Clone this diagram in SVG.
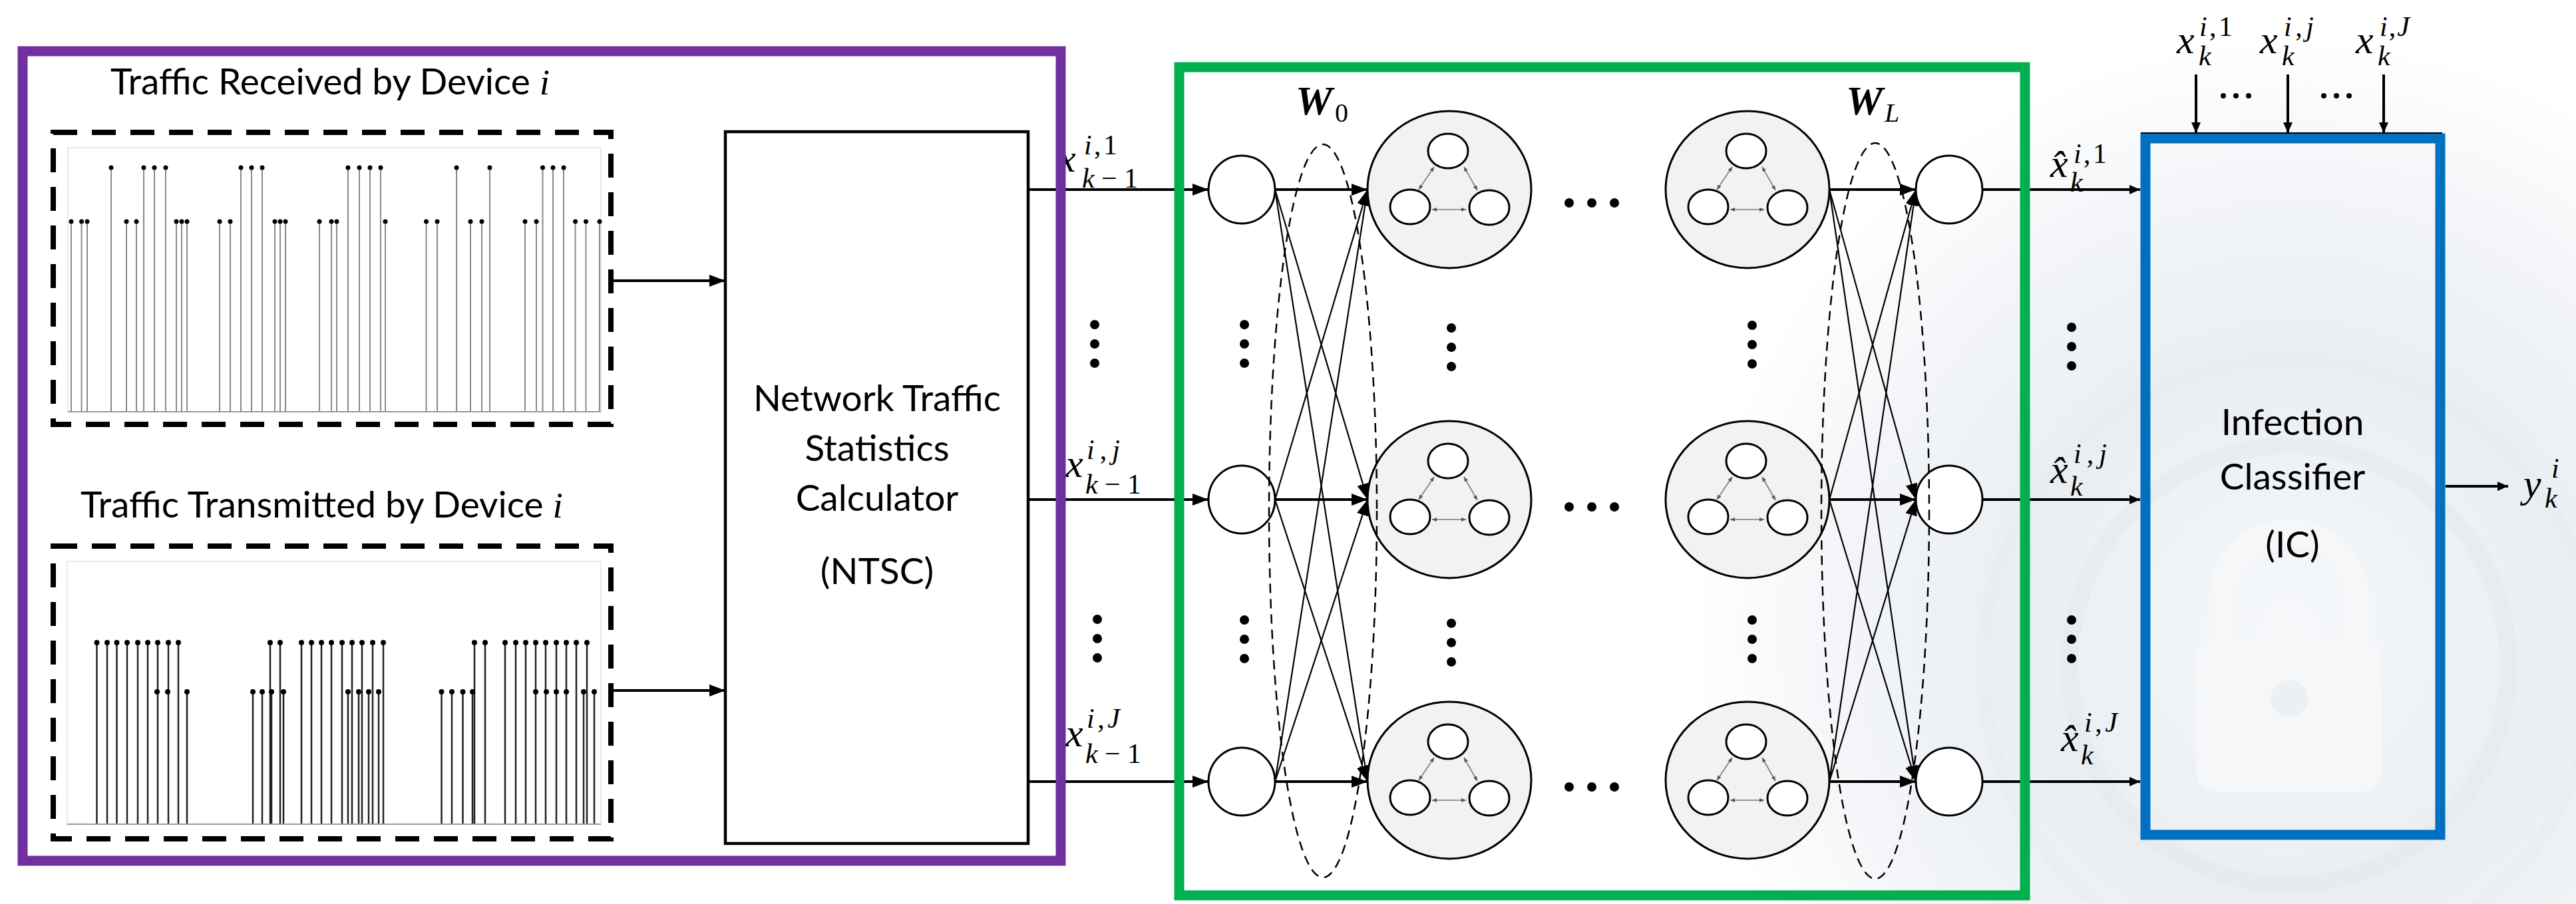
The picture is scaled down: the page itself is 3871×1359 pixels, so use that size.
<svg xmlns="http://www.w3.org/2000/svg" xmlns:xlink="http://www.w3.org/1999/xlink" width="3871" height="1359" viewBox="0 0 3871 1359">
<defs>
<style>
.t{font-family:Lato,"Liberation Sans",sans-serif;font-size:55px;fill:#000}
.m{font-family:"Liberation Serif","DejaVu Serif",serif;font-style:italic;fill:#000}
.n{font-family:"Liberation Serif","DejaVu Serif",serif;font-style:normal;fill:#000}
.wb{font-family:"Liberation Serif","DejaVu Serif",serif;font-style:italic;font-weight:bold;font-size:62px;fill:#000}
.sn{fill:#fff;stroke:#000;stroke-width:3}
.neu{fill:#fff;stroke:#000;stroke-width:3}
.thick{fill:none;stroke:#000;stroke-width:4}
.thin{fill:none;stroke:#000;stroke-width:2.2}
.dash{fill:none;stroke:#000;stroke-width:8;stroke-dasharray:36 22}
.dell{fill:none;stroke:#000;stroke-width:2.5;stroke-dasharray:14 9}
.gin{fill:none;stroke:#7a7a7a;stroke-width:1.6}
</style>
<marker id="ah" markerUnits="userSpaceOnUse" markerWidth="24" markerHeight="18" viewBox="0 0 24 18" refX="24" refY="9" orient="auto"><path d="M0 0L24 9L0 18z" fill="#000"/></marker>
<marker id="ahs" markerUnits="userSpaceOnUse" markerWidth="16" markerHeight="14" viewBox="0 0 16 14" refX="16" refY="7" orient="auto"><path d="M0 0L16 7L0 14z" fill="#000"/></marker>
<marker id="sa" markerUnits="userSpaceOnUse" markerWidth="7" markerHeight="6" viewBox="0 0 7 6" refX="7" refY="3" orient="auto-start-reverse"><path d="M0 0L7 3L0 6z" fill="#555"/></marker>
<radialGradient id="wm" gradientUnits="userSpaceOnUse" cx="3440" cy="950" r="900">
<stop offset="0" stop-color="#f6f8fa"/>
<stop offset="0.45" stop-color="#eaeef2"/>
<stop offset="0.75" stop-color="#f3f5f8"/>
<stop offset="1" stop-color="#ffffff"/>
</radialGradient>
<g id="cell">
<ellipse rx="123" ry="118" fill="#f2f2f2" stroke="#000" stroke-width="3"/>
<ellipse cx="-2" cy="-58" rx="30" ry="26" class="sn"/>
<ellipse cx="-59" cy="26" rx="30" ry="26" class="sn"/>
<ellipse cx="60" cy="27" rx="30" ry="26" class="sn"/>
<line x1="-23" y1="-34" x2="-46" y2="0" class="gin" marker-start="url(#sa)" marker-end="url(#sa)"/>
<line x1="22" y1="-34" x2="42" y2="1" class="gin" marker-start="url(#sa)" marker-end="url(#sa)"/>
<line x1="-26" y1="30" x2="25" y2="30" class="gin" marker-start="url(#sa)" marker-end="url(#sa)"/>
</g>
<g id="vd"><circle cy="-29" r="7"/><circle r="7"/><circle cy="29" r="7"/></g>
<g id="hd"><circle cx="-34" r="7"/><circle r="7"/><circle cx="34" r="7"/></g>
</defs>

<rect width="3871" height="1359" fill="#fff"/>
<g id="background">
<rect x="2540" y="0" width="1331" height="1359" fill="url(#wm)"/>
<circle cx="3440" cy="1000" r="330" fill="none" stroke="#e3e8ed" stroke-width="26" opacity="0.5"/>
<circle cx="3440" cy="1000" r="460" fill="none" stroke="#e6eaef" stroke-width="20" opacity="0.45"/>
<path d="M3340 980V900a100 100 0 0 1 200 0V980" fill="none" stroke="#f5f7f9" stroke-width="40"/>
<rect x="3300" y="960" width="280" height="230" rx="30" fill="#f5f7f9"/>
<circle cx="3440" cy="1050" r="28" fill="#edf0f3"/>
</g>

<g id="traffic-received">
<text class="t" x="166" y="142">Traffic Received by Device <tspan class="m">i</tspan></text>
<rect x="80" y="199" width="838" height="439" class="dash"/>
<rect x="102" y="222" width="801" height="397" fill="#fff" stroke="#e3e3e3" stroke-width="1.5"/>
<path d="M107 619V333M122.5 619V333M131 619V333M190 619V333M205 619V333M265 619V333M273 619V333M281 619V333M330 619V333M346 619V333M413 619V333M421 619V333M429 619V333M480 619V333M498 619V333M506 619V333M579 619V333M640.5 619V333M657 619V333M707 619V333M724 619V333M789 619V333M806 619V333M864.5 619V333M880.5 619V333M901 619V333M167 619V252M216 619V252M232 619V252M249 619V252M362 619V252M378 619V252M394 619V252M523 619V252M540 619V252M556 619V252M572 619V252M686 619V252M736 619V252M815.5 619V252M831 619V252M847 619V252" stroke="#8a8a8a" stroke-width="2" fill="none"/>
<path d="M102 619H903" stroke="#9a9a9a" stroke-width="2"/>
<path d="M107 333h0M122.5 333h0M131 333h0M190 333h0M205 333h0M265 333h0M273 333h0M281 333h0M330 333h0M346 333h0M413 333h0M421 333h0M429 333h0M480 333h0M498 333h0M506 333h0M579 333h0M640.5 333h0M657 333h0M707 333h0M724 333h0M789 333h0M806 333h0M864.5 333h0M880.5 333h0M901 333h0M167 252h0M216 252h0M232 252h0M249 252h0M362 252h0M378 252h0M394 252h0M523 252h0M540 252h0M556 252h0M572 252h0M686 252h0M736 252h0M815.5 252h0M831 252h0M847 252h0" stroke="#000" stroke-width="7" stroke-linecap="round"/>
</g>

<g id="traffic-transmitted">
<text class="t" x="121" y="778">Traffic Transmitted by Device <tspan class="m">i</tspan></text>
<rect x="80" y="821" width="838" height="440" class="dash"/>
<rect x="101" y="844" width="802" height="395" fill="#fff" stroke="#e3e3e3" stroke-width="1.5"/>
<path d="M145.5 1239V966M161 1239V966M175.5 1239V966M191 1239V966M207 1239V966M222 1239V966M237 1239V966M253 1239V966M268 1239V966M406 1239V966M421 1239V966M453 1239V966M468 1239V966M483 1239V966M498 1239V966M514 1239V966M529 1239V966M544 1239V966M560 1239V966M576 1239V966M713 1239V966M729 1239V966M759 1239V966M775 1239V966M790 1239V966M805 1239V966M820 1239V966M836 1239V966M851 1239V966M866 1239V966M882 1239V966M281 1239V1040M380 1239V1040M394 1239V1040M408 1239V1040M426 1239V1040M523 1239V1040M539 1239V1040M554 1239V1040M569 1239V1040M663.5 1239V1040M679 1239V1040M695.5 1239V1040M710 1239V1040M877 1239V1040M893 1239V1040" stroke="#222" stroke-width="2.5" fill="none"/>
<path d="M101 1239H903" stroke="#9a9a9a" stroke-width="2"/>
<path d="M145.5 966h0M161 966h0M175.5 966h0M191 966h0M207 966h0M222 966h0M237 966h0M253 966h0M268 966h0M406 966h0M421 966h0M453 966h0M468 966h0M483 966h0M498 966h0M514 966h0M529 966h0M544 966h0M560 966h0M576 966h0M713 966h0M729 966h0M759 966h0M775 966h0M790 966h0M805 966h0M820 966h0M836 966h0M851 966h0M866 966h0M882 966h0M236 1040h0M252 1040h0M281 1040h0M380 1040h0M394 1040h0M408 1040h0M426 1040h0M523 1040h0M539 1040h0M554 1040h0M569 1040h0M663.5 1040h0M679 1040h0M695.5 1040h0M710 1040h0M805 1040h0M821 1040h0M836 1040h0M851 1040h0M877 1040h0M893 1040h0" stroke="#000" stroke-width="8" stroke-linecap="round"/>
</g>

<g id="ntsc">
<rect x="1090" y="198" width="455" height="1070" fill="#fff" stroke="#000" stroke-width="4.5"/>
<text class="t" x="1318" y="618" text-anchor="middle">Network Traffic</text>
<text class="t" x="1318" y="693" text-anchor="middle">Statistics</text>
<text class="t" x="1318" y="768" text-anchor="middle">Calculator</text>
<text class="t" x="1318" y="878" text-anchor="middle">(NTSC)</text>
</g>

<g id="connectors">
<path d="M918 422H1090" class="thick" marker-end="url(#ah)"/>
<path d="M918 1038H1090" class="thick" marker-end="url(#ah)"/>
<path d="M1545 285H1816" class="thick" marker-end="url(#ah)"/>
<path d="M1545 751H1816" class="thick" marker-end="url(#ah)"/>
<path d="M1545 1175H1816" class="thick" marker-end="url(#ah)"/>
<path d="M1916 285H2055" class="thick" stroke-width="3.5" marker-end="url(#ah)"/>
<path d="M1916 751H2055" class="thick" stroke-width="3.5" marker-end="url(#ah)"/>
<path d="M1916 1175H2055" class="thick" stroke-width="3.5" marker-end="url(#ah)"/>
<path d="M1916 285L2055 751" class="thin" marker-end="url(#ah)"/>
<path d="M1916 285L2055 1175" class="thin" marker-end="url(#ah)"/>
<path d="M1916 751L2055 285" class="thin" marker-end="url(#ah)"/>
<path d="M1916 751L2055 1175" class="thin" marker-end="url(#ah)"/>
<path d="M1916 1175L2055 285" class="thin" marker-end="url(#ah)"/>
<path d="M1916 1175L2055 751" class="thin" marker-end="url(#ah)"/>
<path d="M2749 285H2879" class="thick" stroke-width="3.5" marker-end="url(#ah)"/>
<path d="M2749 751H2879" class="thick" stroke-width="3.5" marker-end="url(#ah)"/>
<path d="M2749 1175H2879" class="thick" stroke-width="3.5" marker-end="url(#ah)"/>
<path d="M2749 285L2879 751" class="thin" marker-end="url(#ah)"/>
<path d="M2749 285L2879 1175" class="thin" marker-end="url(#ah)"/>
<path d="M2749 751L2879 285" class="thin" marker-end="url(#ah)"/>
<path d="M2749 751L2879 1175" class="thin" marker-end="url(#ah)"/>
<path d="M2749 1175L2879 285" class="thin" marker-end="url(#ah)"/>
<path d="M2749 1175L2879 751" class="thin" marker-end="url(#ah)"/>
<path d="M2980 285H3216" class="thick" marker-end="url(#ahs)"/>
<path d="M2980 751H3216" class="thick" marker-end="url(#ahs)"/>
<path d="M2980 1175H3216" class="thick" marker-end="url(#ahs)"/>
<path d="M3300 112V200" class="thick" stroke-width="3" marker-end="url(#ahs)"/>
<path d="M3438 112V200" class="thick" stroke-width="3" marker-end="url(#ahs)"/>
<path d="M3582 112V200" class="thick" stroke-width="3" marker-end="url(#ahs)"/>
<path d="M3675 731H3769" class="thick" stroke-width="3" marker-end="url(#ahs)"/>
</g>

<g id="input-layer">
<ellipse cx="1866" cy="285" rx="50" ry="51" class="neu"/>
<ellipse cx="1866" cy="751" rx="50" ry="51" class="neu"/>
<ellipse cx="1866" cy="1175" rx="50" ry="51" class="neu"/>
<use xlink:href="#vd" x="1870" y="517"/>
<use xlink:href="#vd" x="1870" y="961"/>
</g>
<g id="graph-cells-first">
<use xlink:href="#cell" x="2178" y="285"/>
<use xlink:href="#cell" x="2178" y="751"/>
<use xlink:href="#cell" x="2178" y="1173"/>
<use xlink:href="#vd" x="2181" y="522"/>
<use xlink:href="#vd" x="2181" y="966"/>
</g>
<g id="graph-cells-last">
<use xlink:href="#cell" x="2626" y="285"/>
<use xlink:href="#cell" x="2626" y="751"/>
<use xlink:href="#cell" x="2626" y="1173"/>
<use xlink:href="#vd" x="2633" y="518"/>
<use xlink:href="#vd" x="2633" y="961"/>
</g>
<g id="row-ellipsis">
<use xlink:href="#hd" x="2392" y="305"/>
<use xlink:href="#hd" x="2392" y="762"/>
<use xlink:href="#hd" x="2392" y="1183"/>
</g>
<g id="output-layer">
<ellipse cx="2929" cy="285" rx="50" ry="51" class="neu"/>
<ellipse cx="2929" cy="751" rx="50" ry="51" class="neu"/>
<ellipse cx="2929" cy="1175" rx="50" ry="51" class="neu"/>
</g>
<g id="weights-W0">
<ellipse cx="1988" cy="768" rx="81" ry="551" class="dell"/>
<text x="1947" y="172" class="wb">W</text>
<text x="2006" y="183" class="n" font-size="40">0</text>
</g>
<g id="weights-WL">
<ellipse cx="2818" cy="768" rx="81" ry="553" class="dell"/>
<text x="2774" y="172" class="wb">W</text>
<text x="2832" y="183" class="m" font-size="40">L</text>
</g>

<g id="input-labels">
<text class="m" x="1590" y="258" font-size="60">x</text>
<text class="m" x="1629" y="232" font-size="42" textLength="50">i<tspan class="n">,1</tspan></text>
<text class="m" x="1626" y="282" font-size="42" textLength="84">k<tspan class="n">−1</tspan></text>
<use xlink:href="#vd" x="1645" y="517"/>
<text class="m" x="1601" y="717" font-size="60">x</text>
<text class="m" x="1633" y="690" font-size="42" textLength="50">i<tspan class="n">,</tspan>j</text>
<text class="m" x="1631" y="742" font-size="42" textLength="84">k<tspan class="n">−1</tspan></text>
<use xlink:href="#vd" x="1649" y="960"/>
<text class="m" x="1601" y="1122" font-size="60">x</text>
<text class="m" x="1633" y="1094" font-size="42" textLength="50">i<tspan class="n">,</tspan>J</text>
<text class="m" x="1631" y="1147" font-size="42" textLength="84">k<tspan class="n">−1</tspan></text>
</g>

<g id="output-labels">
<text class="m" x="3081" y="266" font-size="60">x̂</text>
<text class="m" x="3116" y="245" font-size="42" textLength="50">i<tspan class="n">,1</tspan></text>
<text class="m" x="3111" y="288" font-size="42">k</text>
<use xlink:href="#vd" x="3113" y="521"/>
<text class="m" x="3081" y="726" font-size="60">x̂</text>
<text class="m" x="3116" y="696" font-size="42" textLength="50">i<tspan class="n">,</tspan>j</text>
<text class="m" x="3111" y="745" font-size="42">k</text>
<use xlink:href="#vd" x="3113" y="961"/>
<text class="m" x="3097" y="1129" font-size="60">x̂</text>
<text class="m" x="3132" y="1100" font-size="42" textLength="50">i<tspan class="n">,</tspan>J</text>
<text class="m" x="3127" y="1149" font-size="42">k</text>
</g>

<g id="ic">
<rect x="3224" y="208" width="443" height="1047" fill="none" stroke="#0070c0" stroke-width="15"/>
<path d="M3217 200H3670" stroke="#000" stroke-width="2"/>
<text class="t" x="3445" y="654" text-anchor="middle">Infection</text>
<text class="t" x="3445" y="736" text-anchor="middle">Classifier</text>
<text class="t" x="3445" y="838" text-anchor="middle">(IC)</text>
</g>

<g id="ic-inputs">
<text class="m" x="3271" y="80" font-size="60">x</text>
<text class="m" x="3305" y="54" font-size="42" textLength="50">i<tspan class="n">,1</tspan></text>
<text class="m" x="3304" y="98" font-size="42">k</text>
<text class="m" x="3396" y="80" font-size="60">x</text>
<text class="m" x="3432" y="54" font-size="42" textLength="45">i<tspan class="n">,</tspan>j</text>
<text class="m" x="3429" y="98" font-size="42">k</text>
<text class="m" x="3540" y="80" font-size="60">x</text>
<text class="m" x="3576" y="54" font-size="42" textLength="45">i<tspan class="n">,</tspan>J</text>
<text class="m" x="3573" y="98" font-size="42">k</text>
<circle cx="3341" cy="144" r="4"/><circle cx="3360" cy="144" r="4"/><circle cx="3379" cy="144" r="4"/>
<circle cx="3492" cy="144" r="4"/><circle cx="3511" cy="144" r="4"/><circle cx="3530" cy="144" r="4"/>
</g>

<g id="ic-output">
<text class="m" x="3792" y="747" font-size="60">y</text>
<text class="m" x="3834" y="718" font-size="42">i</text>
<text class="m" x="3824" y="763" font-size="42">k</text>
</g>

<g id="frames">
<rect x="34" y="77" width="1560" height="1217" fill="none" stroke="#7030a0" stroke-width="15"/>
<rect x="1772" y="101" width="1271" height="1245" fill="none" stroke="#00b050" stroke-width="15"/>
</g>
</svg>
